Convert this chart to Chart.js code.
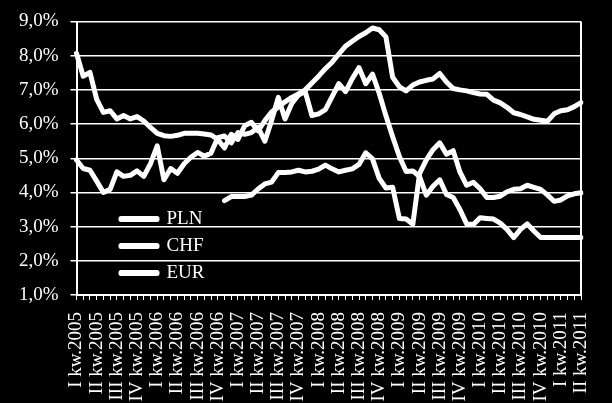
<!DOCTYPE html>
<html>
<head>
<meta charset="utf-8">
<script src="https://cdn.jsdelivr.net/npm/chart.js@4.4.1/dist/chart.umd.min.js"></script>
<style>
    html, body { margin: 0; padding: 0; background: #000; }
    #ratesChart { display: block; }
</style>
</head>
<body>
<canvas id="ratesChart" width="612" height="403"></canvas>
<script>
/* quarter tick labels, one every 3 months */
const quarterLabels = [
    'I kw.2005', 'II kw.2005', 'III kw.2005', 'IV kw.2005',
    'I kw.2006', 'II kw.2006', 'III kw.2006', 'IV kw.2006',
    'I kw.2007', 'II kw.2007', 'III kw.2007', 'IV kw.2007',
    'I kw.2008', 'II kw.2008', 'III kw.2008', 'IV kw.2008',
    'I kw.2009', 'II kw.2009', 'III kw.2009', 'IV kw.2009',
    'I kw.2010', 'II kw.2010', 'III kw.2010', 'IV kw.2010',
    'I kw.2011', 'II kw.2011'
];

const seriesNames = ['PLN', 'CHF', 'EUR'];

//monthly values (%), Jan 2005 - Apr 2011
const plnValues = [
    8.07, 7.40, 7.51, 6.72, 6.34, 6.39, 6.15, 6.25, 6.15, 6.22,
    6.09, 5.90, 5.73, 5.66, 5.64, 5.67, 5.73, 5.73, 5.73, 5.71,
    5.68, 5.55, 5.30, 5.70, 5.55, 5.95, 6.05, 5.80, 6.10, 6.35,
    6.50, 6.65, 6.78, 6.88, 7.00, 7.20, 7.40, 7.62, 7.81, 8.05,
    8.28, 8.42, 8.56, 8.67, 8.81, 8.76, 8.55, 7.37, 7.09, 6.97,
    7.14, 7.23, 7.28, 7.32, 7.48, 7.23, 7.04, 7.00, 6.97, 6.92,
    6.88, 6.87, 6.70, 6.62, 6.49, 6.33, 6.28, 6.21, 6.14, 6.11,
    6.08, 6.30, 6.39, 6.42, 6.51, 6.63
];

const chfValues = [
    4.95, 4.70, 4.65, 4.33, 4.00, 4.09, 4.60, 4.47, 4.50, 4.63,
    4.47, 4.84, 5.36, 4.37, 4.70, 4.56, 4.84, 5.03, 5.17, 5.06,
    5.15, 5.60, 5.65, 5.45, 5.75, 5.70, 5.75, 5.90, 5.50, 6.10,
    6.78, 6.15, 6.60, 6.85, 6.95, 6.25, 6.30, 6.42, 6.80, 7.18,
    6.95, 7.33, 7.65, 7.18, 7.46, 6.90, 6.24, 5.63, 5.05, 4.61,
    4.63, 4.46, 3.92, 4.18, 4.37, 3.94, 3.85, 3.50, 3.08, 3.06,
    3.26, 3.24, 3.22, 3.10, 2.92, 2.68, 2.92, 3.08, 2.87, 2.68,
    2.68, 2.68, 2.68, 2.68, 2.68, 2.68
];

const eurValues = [
    null, null, null, null, null, null, null, null, null, null,
    null, null, null, null, null, null, null, null, null, null,
    null, null, 3.76, 3.88, 3.88, 3.88, 3.92, 4.10, 4.25, 4.30,
    4.58, 4.58, 4.60, 4.65, 4.60, 4.62, 4.68, 4.80, 4.69, 4.60,
    4.65, 4.69, 4.82, 5.16, 4.98, 4.41, 4.13, 4.15, 3.24, 3.22,
    3.07, 4.55, 4.95, 5.25, 5.45, 5.12, 5.22, 4.60, 4.21, 4.30,
    4.11, 3.85, 3.85, 3.89, 4.02, 4.09, 4.11, 4.21, 4.15, 4.09,
    3.93, 3.74, 3.78, 3.90, 3.96, 3.99
];

//one category per month, only the first month of a quarter gets a label
const monthLabels = plnValues.map((v, i) => (i % 3 === 0 ? quarterLabels[i / 3] : ''));

Chart.defaults.font.family = "'Liberation Serif', 'Times New Roman', serif";
Chart.defaults.color = '#fff';

function lineDataset(name, values) {
    return {
        label: name,
        data: values,
        borderColor: '#fff',
        backgroundColor: '#fff',
        borderWidth: 5,
        borderJoinStyle: 'round',
        borderCapStyle: 'round',
        pointRadius: 0,
        tension: 0,
        fill: false,
        spanGaps: false
    };
}

//puts the legend inside the plot and draws the right edge of the plot
const plotExtras = {
    id: 'plotExtras',
    afterLayout(chart) {
        const legend = chart.legend;
        const area = chart.chartArea;
        legend.left = area.left + 36.5;
        legend.top = area.top + 180;
        legend.right = legend.left + legend.width;
        legend.bottom = legend.top + legend.height;
    },
    beforeDatasetsDraw(chart) {
        const {ctx, chartArea} = chart;
        ctx.save();
        ctx.strokeStyle = '#fff';
        ctx.lineWidth = 2;
        ctx.beginPath();
        ctx.moveTo(chartArea.right, chartArea.top);
        ctx.lineTo(chartArea.right, chartArea.bottom);
        ctx.stroke();
        ctx.restore();
    }
};

const ratesConfig = {
    type: 'line',
    data: {
        labels: monthLabels,
        datasets: [
            lineDataset(seriesNames[0], plnValues),
            lineDataset(seriesNames[1], chfValues),
            lineDataset(seriesNames[2], eurValues)
        ]
    },
    options: {
        responsive: false,
        animation: false,
        layout: {
            padding: {left: 0, right: 14, top: 10.5, bottom: 0}
        },
        plugins: {
            legend: {
                position: 'chartArea',
                align: 'start',
                labels: {
                    color: '#fff',
                    boxWidth: 36,
                    boxHeight: 1,
                    padding: 8,
                    font: {size: 19}
                }
            },
            tooltip: {enabled: false}
        },
        scales: {
            x: {
                offset: false,
                afterFit(scale) { scale.height = 108; },
                grid: {
                    display: true,
                    drawOnChartArea: false,
                    drawTicks: true,
                    tickLength: 5,
                    color: '#fff',
                    lineWidth: 1,
                    offset: false
                },
                border: {color: '#fff', width: 2},
                ticks: {
                    autoSkip: false,
                    maxRotation: 90,
                    minRotation: 90,
                    padding: 12,
                    color: '#fff',
                    font: {size: 19, lineHeight: 1}
                }
            },
            y: {
                min: 1,
                max: 9,
                afterFit(scale) { scale.width = 76.5; },
                grid: {color: '#fff', lineWidth: 1.5, tickLength: 6},
                border: {color: '#fff', width: 2},
                ticks: {
                    stepSize: 1,
                    padding: 12,
                    color: '#fff',
                    font: {size: 19, lineHeight: 1},
                    callback: (v) => v.toFixed(1).replace('.', ',') + '%'
                }
            }
        }
    },
    plugins: [plotExtras]
};

var ratesChart = new Chart(
    document.getElementById('ratesChart'),
    ratesConfig
);
</script>
</body>
</html>
